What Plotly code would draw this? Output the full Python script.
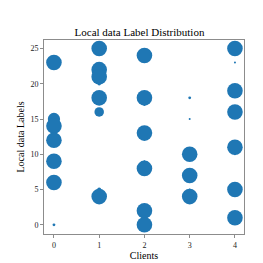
import plotly.graph_objects as go

clients = [0, 0, 0, 0, 0, 0, 0,
           1, 1, 1, 1, 1, 1, 1, 1,
           2, 2, 2, 2, 2, 2, 2, 2,
           3, 3, 3, 3, 3, 3,
           4, 4, 4, 4, 4, 4, 4, 4]
labels = [23, 15, 14, 12, 9, 6, 0,
          25, 22, 21, 20, 18, 16, 5, 4,
          24, 18, 17, 13, 9, 8, 2, 0,
          18, 15, 10, 7, 5, 4,
          25, 23, 19, 16, 11, 10, 5, 1]
counts = [120, 75, 120, 120, 120, 120, 4,
          120, 120, 120, 6, 120, 45, 8, 120,
          120, 120, 1, 120, 1, 120, 120, 120,
          4, 1, 120, 120, 1, 120,
          120, 1, 120, 120, 120, 1, 120, 120]

x_ticks = [0, 1, 2, 3, 4]
y_ticks = [0, 5, 10, 15, 20, 25]

max_d = 11
sizeref = max(counts) / (max_d ** 2)

fig = go.Figure(go.Scatter(
    x=clients, y=labels, mode="markers",
    marker=dict(size=counts, sizemode="area", sizeref=sizeref, sizemin=1,
                color="#1f77b4", opacity=1, line=dict(width=0)),
))

axis_common = dict(
    showgrid=False, zeroline=False, showline=True, mirror=True,
    linecolor="#8c8c8c", linewidth=1, ticks="outside", ticklen=3,
    tickcolor="#8c8c8c", tickfont=dict(family="Liberation Serif", size=8, color="#222"),
)

fig.update_layout(
    width=263, height=263,
    margin=dict(l=32, r=27, t=32, b=30),
    paper_bgcolor="white", plot_bgcolor="white",
    showlegend=False,
    title=dict(text="Local data Label Distribution", x=0.5, xanchor="center",
               y=1 - 24 / 263, yanchor="middle",
               font=dict(family="Liberation Serif", size=11, color="black")),
    xaxis=dict(range=[-0.22, 4.2], tickvals=x_ticks,
               title=dict(text="Clients", standoff=2,
                          font=dict(family="Liberation Serif", size=10, color="black")),
               **axis_common),
    yaxis=dict(range=[-1.3, 26.2], tickvals=y_ticks,
               title=dict(text="Local data Labels", standoff=3,
                          font=dict(family="Liberation Serif", size=10, color="black")),
               **axis_common),
)

fig.write_html("out.html")
